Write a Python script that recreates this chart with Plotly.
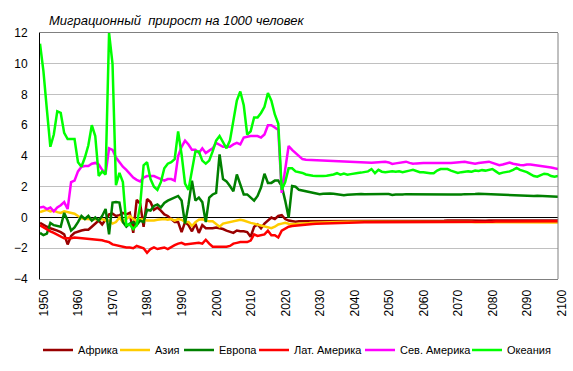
import plotly.graph_objects as go

years = list(range(1950, 2101))

africa = [
    -0.35, -0.5, -0.6, -0.7, -0.75, -0.85, -0.95, -1.1, -1.75, -1.2,
    -1.0, -0.9, -0.85, -0.8, -0.8, -0.6, -0.4, -0.2, -0.45, -0.1,
    0.2, 0.25, 0.1, 0.15, 0.3, 0.2, 0.3, -1.0, 1.15, 0.9,
    -0.6, 1.2, 1.0, 0.5, 0.65, 0.45, 0.2, 0.1, -0.1, -0.3,
    -0.3, -0.95, -0.3, -0.5, -0.9, -0.4, -1.0, -0.5, -0.7, -0.7,
    -0.7, -0.65, -0.7, -0.75, -0.85, -0.95, -1.0, -0.85, -0.9, -0.9,
    -0.95, -1.25, -0.6, -0.45, -0.7, -0.4, -0.2, 0.0, -0.1, 0.1,
    0.15, -0.1, -0.2, -0.25, -0.28, -0.25, -0.25, -0.25,
    -0.25, -0.25, -0.24, -0.25, -0.24, -0.24, -0.25, -0.24, -0.24, -0.23,
    -0.24, -0.23, -0.24, -0.23, -0.23, -0.24, -0.23, -0.23, -0.22, -0.23,
    -0.23, -0.22, -0.23, -0.22, -0.23, -0.22, -0.22, -0.23, -0.22, -0.22,
    -0.21, -0.22, -0.22, -0.21, -0.22, -0.21, -0.21, -0.22, -0.21, -0.21,
    -0.2, -0.21, -0.21, -0.2, -0.21, -0.2, -0.19, -0.2, -0.21, -0.2,
    -0.2, -0.21, -0.2, -0.2, -0.19, -0.2, -0.2, -0.19, -0.2, -0.2,
    -0.19, -0.2, -0.2, -0.19, -0.2, -0.19, -0.19, -0.2, -0.19, -0.19,
    -0.19, -0.18, -0.19,
]

asia = [
    0.35, 0.45, 0.5, 0.4, 0.45, 0.35, 0.3, 0.4, 0.35, 0.3,
    0.25, 0.1, -0.05, -0.1, -0.1, -0.15, -0.1, -0.15, -0.1, -0.2,
    -0.2, -0.4, -0.3, 0.0, -0.3, -0.1, 0.1, -0.1, -0.2, -0.1,
    -0.15, -0.2, -0.2, -0.2, -0.15, -0.1, -0.1, -0.15, -0.1, -0.2,
    -0.1, -0.15, -0.3, -0.3, -0.55, -0.3, -0.15, -0.12, -0.2, -0.25,
    -0.25, -0.45, -0.6, -0.4, -0.35, -0.3, -0.25, -0.2, -0.15, -0.2,
    -0.3, -0.35, -0.4, -0.45, -0.5, -0.6, -0.65, -0.7, -0.6, -0.45,
    -0.4, -0.35, -0.4, -0.42, -0.43, -0.4, -0.4, -0.38,
    -0.36, -0.34, -0.33, -0.32, -0.31, -0.31, -0.3, -0.3, -0.29, -0.29,
    -0.29, -0.28, -0.28, -0.28, -0.28, -0.27, -0.28, -0.27, -0.27, -0.27,
    -0.27, -0.27, -0.26, -0.27, -0.26, -0.27, -0.26, -0.26, -0.26, -0.26,
    -0.26, -0.26, -0.26, -0.26, -0.27, -0.27, -0.27, -0.28, -0.28, -0.28,
    -0.29, -0.29, -0.29, -0.3, -0.3, -0.3, -0.3, -0.3, -0.31, -0.31,
    -0.31, -0.31, -0.31, -0.31, -0.31, -0.32, -0.32, -0.32, -0.32, -0.32,
    -0.32, -0.32, -0.32, -0.32, -0.32, -0.32, -0.32, -0.32, -0.32, -0.32,
    -0.32, -0.32, -0.32,
]

europe = [
    -1.0, -1.15, -1.05, -0.35, -0.5, -0.55, -0.6, 0.3, -0.2, -0.85,
    -0.65, -0.3, 0.1, -0.1, 0.1, -0.2, 0.0, -0.2, 0.1, 0.55,
    -1.1, 0.97, 1.0, 0.97, -0.3, -0.6, -0.4, -0.3, -0.5, -0.2,
    -0.3, 0.5, 0.45, 0.75, 0.85, 0.65, 0.95, 1.1, 1.2, 1.3,
    1.4, 1.1, -0.4, 0.85, 2.4, 1.1, 1.3, 1.0, -0.3, 1.3,
    1.5, 1.6, 4.1, 2.5, 2.35, 2.05, 1.7, 2.8, 2.15, 1.5,
    1.5, 1.3, 1.1, 1.4, 1.95, 2.85, 2.25, 2.25, 2.4, 2.4,
    2.05, 1.1, 0.0, 2.05, 2.0, 1.8, 1.75, 1.7,
    1.66, 1.62, 1.58, 1.52, 1.54, 1.57, 1.56, 1.55, 1.52, 1.48,
    1.45, 1.48, 1.5, 1.53, 1.55, 1.53, 1.52, 1.53, 1.52, 1.53,
    1.53, 1.52, 1.53, 1.53, 1.47, 1.5, 1.48, 1.5, 1.52, 1.52,
    1.53, 1.52, 1.52, 1.53, 1.52, 1.52, 1.52, 1.53, 1.54, 1.52,
    1.51, 1.5, 1.49, 1.48, 1.5, 1.52, 1.51, 1.52, 1.53, 1.54,
    1.53, 1.52, 1.5, 1.48, 1.47, 1.46, 1.46, 1.45, 1.44, 1.45,
    1.44, 1.42, 1.43, 1.42, 1.41, 1.4, 1.41, 1.4, 1.39, 1.38,
    1.37, 1.36, 1.35,
]

lat_america = [
    -0.5, -0.65, -0.8, -0.9, -1.0, -1.1, -1.2, -1.35, -1.35, -1.35,
    -1.3, -1.32, -1.38, -1.4, -1.4, -1.42, -1.42, -1.45, -1.48, -1.55,
    -1.6, -1.75, -1.8, -1.85, -1.9, -1.95, -1.95, -2.0, -1.85, -1.95,
    -2.0, -2.3, -2.05, -1.95, -2.05, -2.0, -1.95, -2.05, -1.9, -1.8,
    -1.7, -1.65, -1.75, -1.72, -1.72, -1.7, -1.65, -1.7, -1.45, -1.7,
    -1.9, -1.9, -1.9, -1.9, -1.9, -1.85, -1.7, -1.65, -1.6, -1.6,
    -1.6, -1.5, -1.1, -1.2, -1.15, -1.1, -0.86, -1.15, -1.15, -1.3,
    -0.85, -0.7, -0.6, -0.55, -0.52, -0.5, -0.48, -0.46,
    -0.44, -0.42, -0.4, -0.39, -0.38, -0.37, -0.36, -0.35, -0.34, -0.34,
    -0.33, -0.33, -0.32, -0.32, -0.32, -0.31, -0.31, -0.31, -0.31, -0.3,
    -0.3, -0.3, -0.3, -0.3, -0.3, -0.3, -0.29, -0.29, -0.29, -0.29,
    -0.29, -0.29, -0.29, -0.29, -0.29, -0.29, -0.28, -0.28, -0.28, -0.28,
    -0.28, -0.28, -0.28, -0.28, -0.28, -0.27, -0.27, -0.27, -0.27, -0.27,
    -0.27, -0.27, -0.27, -0.27, -0.26, -0.26, -0.26, -0.26, -0.26, -0.26,
    -0.26, -0.26, -0.26, -0.25, -0.25, -0.25, -0.25, -0.25, -0.25, -0.25,
    -0.25, -0.25, -0.25,
]

north_america = [
    0.65, 0.7, 0.55, 0.65, 0.4, 0.65, 0.8, 1.0, 0.55, 2.3,
    2.4, 3.0, 3.3, 3.35, 3.35, 3.5, 3.55, 3.45, 3.1, 2.85,
    4.5, 4.4, 3.9, 3.6, 3.3, 3.1, 2.85, 2.6, 2.45, 2.35,
    2.6, 2.7, 2.7, 2.7, 2.6, 2.5, 2.4, 2.5, 2.5, 2.4,
    4.0, 4.6, 5.0, 4.75, 4.4, 4.4, 4.2, 4.5, 4.2, 4.35,
    4.5, 4.85, 4.75, 4.6, 4.6, 4.6, 4.75, 4.85, 4.75, 5.2,
    5.25, 5.3, 5.3, 5.3, 5.2, 5.4, 6.0, 6.0, 5.85, 5.7,
    1.6, 3.2, 4.65, 4.4, 4.2, 4.0, 3.8, 3.75,
    3.74, 3.72, 3.72, 3.7, 3.68, 3.69, 3.7, 3.68, 3.66, 3.64,
    3.62, 3.62, 3.62, 3.6, 3.6, 3.58, 3.57, 3.55, 3.56, 3.58,
    3.6, 3.62, 3.62, 3.58, 3.48, 3.52, 3.55, 3.6, 3.63, 3.55,
    3.5, 3.52, 3.55, 3.55, 3.54, 3.56, 3.55, 3.55, 3.56, 3.55,
    3.55, 3.54, 3.55, 3.56, 3.6, 3.62, 3.58, 3.55, 3.5, 3.54,
    3.58, 3.62, 3.63, 3.55, 3.45, 3.4, 3.45, 3.52, 3.58, 3.5,
    3.45, 3.42, 3.4, 3.45, 3.45, 3.42, 3.4, 3.38, 3.33, 3.3,
    3.25, 3.2, 3.16,
]

oceania = [
    11.3, 9.5, 7.0, 4.6, 5.4, 6.9, 6.8, 5.5, 5.1, 5.1,
    5.1, 3.6, 3.3, 3.9, 4.7, 6.0, 5.3, 2.7, 3.0, 2.8,
    12.0, 10.0, 2.1, 2.9, 2.3, -0.5, -0.45, -0.75, -0.5, 0.8,
    3.4, 3.6, 2.5, 2.0, 1.8, 2.3, 3.2, 3.5, 3.6, 3.8,
    5.6, 4.1, 2.2, 1.8, 3.2, 4.3, 4.3, 3.7, 3.5, 3.7,
    4.3, 5.0, 5.3, 4.9, 4.5, 5.0, 6.4, 7.6, 8.2, 7.3,
    5.4, 5.6, 6.5, 6.5, 6.8, 7.2, 8.1, 7.6, 6.7, 6.1,
    1.8, 2.3, 3.2, 3.2, 3.0, 2.95, 2.9, 2.8,
    2.75, 2.72, 2.7, 2.68, 2.7, 2.72, 2.75, 2.8, 2.88, 2.78,
    2.85, 2.78, 2.82, 2.88, 2.9, 2.92, 2.95, 3.0, 3.15, 2.88,
    3.1, 2.98, 2.95, 2.97, 3.0, 2.97, 3.0, 2.95, 2.98, 3.05,
    3.1, 3.0, 2.95, 2.95, 2.9, 2.88, 2.88, 3.05, 3.15, 3.15,
    3.15, 3.05, 2.95, 2.9, 2.95, 2.98, 3.0, 2.98, 3.05, 3.02,
    3.08, 3.05, 3.1, 3.15, 3.0, 2.85, 2.92, 2.95, 3.0, 3.1,
    3.22, 3.1, 3.05, 2.95, 2.82, 2.7, 2.65, 2.75, 2.85, 2.82,
    2.7, 2.65, 2.7,
]

series_names = ["Африка", "Азия", "Европа", "Лат. Америка", "Сев. Америка", "Океания"]
series_values = [africa, asia, europe, lat_america, north_america, oceania]
series_colors = ["#990000", "#FFCC00", "#008000", "#FF0000", "#FF00FF", "#00FF00"]
legend_widths = [32, 19, 30, 61, 62, 47]

x_ticks = list(range(1950, 2101, 10))
y_ticks = list(range(-4, 13, 2))

FONT = "Arial, 'Liberation Sans', sans-serif"

fig = go.Figure()
for name, vals, col, lw in zip(series_names, series_values, series_colors, legend_widths):
    fig.add_trace(go.Scatter(
        x=years, y=vals, name=name, mode="lines",
        line=dict(color=col, width=2.5),
        legendwidth=lw,
    ))

fig.update_layout(
    width=573, height=371,
    margin=dict(l=40, r=15, t=33, b=92),
    paper_bgcolor="white", plot_bgcolor="white",
    font=dict(family=FONT, size=12, color="black"),
    title=dict(
        text="Миграционный\u00a0 прирост на 1000 человек",
        font=dict(family=FONT, size=13, color="black", style="italic"),
        xref="container", x=49 / 573, xanchor="left",
        yref="container", y=1 - 20 / 371, yanchor="middle",
    ),
    showlegend=True,
    legend=dict(
        orientation="h", xref="container", yref="container",
        x=38 / 573, xanchor="left", y=1 - 350 / 371, yanchor="middle",
        font=dict(family=FONT, size=11, color="black"),
        itemwidth=30, bgcolor="rgba(0,0,0,0)",
    ),
    xaxis=dict(
        range=[1950, 2100], tickmode="array", tickvals=x_ticks,
        ticktext=[str(v) for v in x_ticks],
        tickangle=-90, showgrid=False, zeroline=False, automargin=False,
        showline=True, linecolor="#808080", linewidth=1, mirror=True,
        ticks="", ticklabelstandoff=5, ticklabelshift=4,
        tickfont=dict(family=FONT, size=12, color="black"),
    ),
    yaxis=dict(
        range=[-4, 12], tickmode="array", tickvals=y_ticks, automargin=False,
        showgrid=True, gridcolor="#C0C0C0", gridwidth=1,
        zeroline=True, zerolinecolor="black", zerolinewidth=1,
        showline=True, linecolor="black", linewidth=1, mirror=False,
        ticks="", ticklabelstandoff=9,
        tickfont=dict(family=FONT, size=12, color="black"),
    ),
    shapes=[dict(type="line", xref="paper", yref="paper", x0=1, x1=1, y0=0, y1=1,
                 line=dict(color="#808080", width=1), layer="above")],
)

fig.write_html("out.html", config={"displayModeBar": False},
               post_script="document.body.style.margin='0';")
